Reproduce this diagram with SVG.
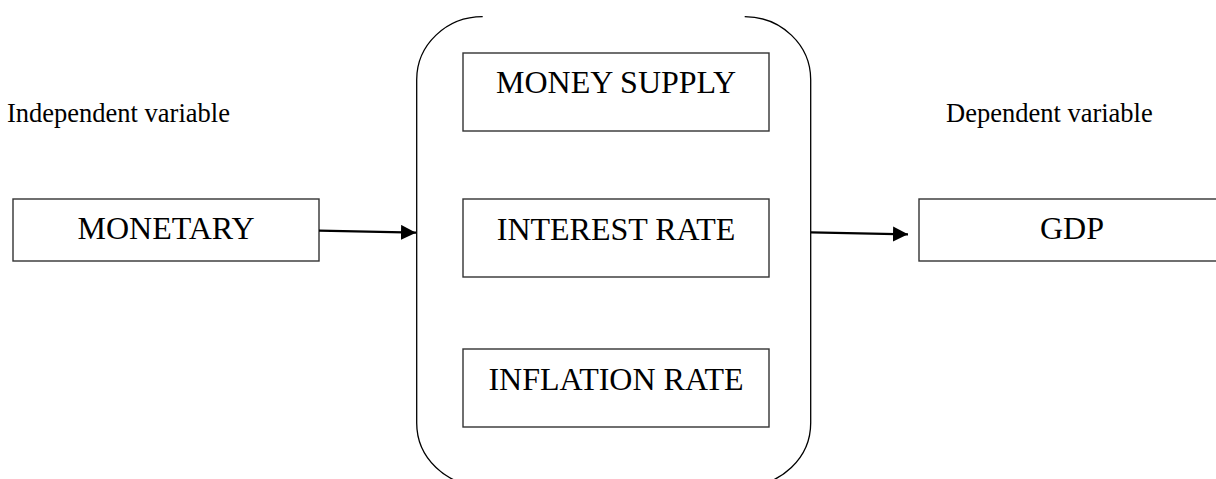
<svg xmlns="http://www.w3.org/2000/svg" width="1216" height="479" viewBox="0 0 1216 479">
<style>
.box{fill:#fff;stroke:#333;stroke-width:1.4}
.lbl{font-family:"Liberation Serif","Times New Roman",serif;font-size:32px;fill:#000;text-anchor:middle}
.cap{font-family:"Liberation Serif","Times New Roman",serif;font-size:26.5px;fill:#000}
.brk{fill:none;stroke:#000;stroke-width:1.3}
.arr{fill:none;stroke:#000;stroke-width:2.2}
</style>
<defs>
<marker id="ah" markerUnits="userSpaceOnUse" markerWidth="16" markerHeight="16" refX="15" refY="7.5" orient="auto">
<path d="M0,0 L15,7.5 L0,15 Z" fill="#000"/>
</marker>
</defs>
<rect width="1216" height="479" fill="#fff"/>
<text class="cap" x="7" y="122">Independent variable</text>
<text class="cap" x="946" y="122">Dependent variable</text>
<g id="group-bracket">
<path class="brk" d="M482.7,16.7 A66,63 0 0 0 416.7,79.7 L416.7,423 A66,63 0 0 0 482.7,486"/>
<path class="brk" d="M744.7,16.7 A66,63 0 0 1 810.7,79.7 L810.7,423 A66,63 0 0 1 744.7,486"/>
</g>
<g id="node-monetary">
<rect class="box" x="13" y="199" width="306" height="62"/>
<text class="lbl" x="166" y="239">MONETARY</text>
</g>
<g id="node-money-supply">
<rect class="box" x="463" y="53" width="306" height="78"/>
<text class="lbl" x="616" y="93">MONEY SUPPLY</text>
</g>
<g id="node-interest-rate">
<rect class="box" x="463" y="199" width="306" height="78"/>
<text class="lbl" x="616" y="240">INTEREST RATE</text>
</g>
<g id="node-inflation-rate">
<rect class="box" x="463" y="349" width="306" height="78"/>
<text class="lbl" x="616" y="390">INFLATION RATE</text>
</g>
<g id="node-gdp">
<rect class="box" x="919" y="199" width="320" height="62"/>
<text class="lbl" x="1072" y="239">GDP</text>
</g>
<g id="connectors">
<line class="arr" x1="319" y1="230.7" x2="416" y2="232.7" marker-end="url(#ah)"/>
<line class="arr" x1="811" y1="232.3" x2="908" y2="234.3" marker-end="url(#ah)"/>
</g>
</svg>
